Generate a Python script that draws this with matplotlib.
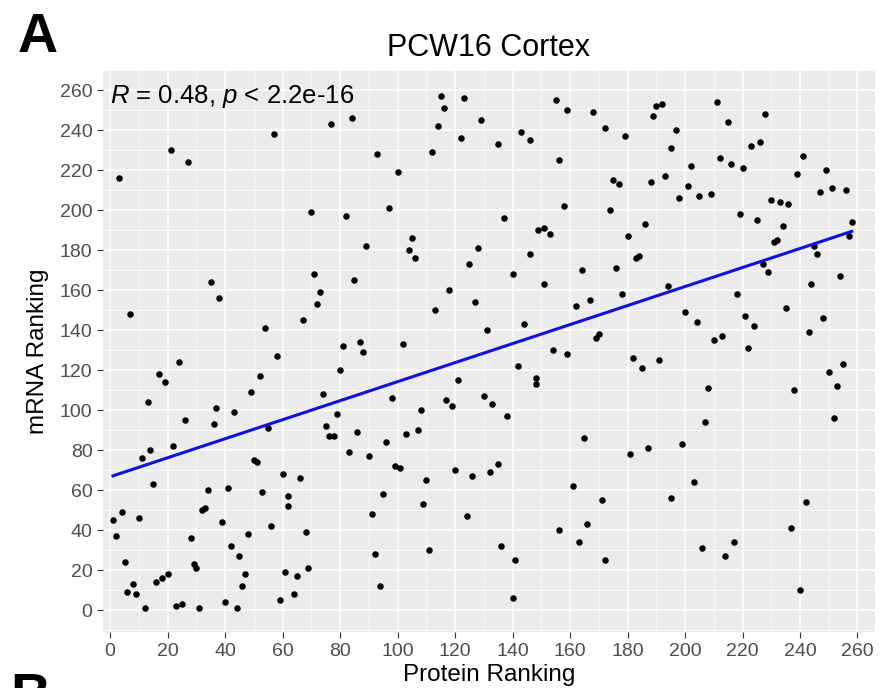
import numpy as np
import matplotlib
matplotlib.use("Agg")
import matplotlib.pyplot as plt
from matplotlib.ticker import MultipleLocator

plt.rcParams['font.family'] = ['Liberation Sans', 'DejaVu Sans']
plt.rcParams['mathtext.fontset'] = 'custom'
plt.rcParams['mathtext.rm'] = 'Liberation Sans'
plt.rcParams['mathtext.it'] = 'Liberation Sans:italic'

# values
protein_rank = [
    14, 11, 22, 15, 50, 51, 60, 34, 41, 53, 62, 62, 4, 1, 10, 32, 33, 39, 56, 2, 28, 48,
    42, 45, 5, 29, 30, 20, 16, 18, 47, 61, 8, 6, 9, 46, 12, 23, 25, 31, 40, 44, 59,
    35, 38, 7, 54, 58, 24, 17, 19, 52, 49, 13, 37, 43, 26, 36, 55,
    57, 21, 27, 3,
    115, 123, 116, 77, 84, 114, 129, 122, 93, 112, 100, 70, 82, 97, 105, 89, 104, 106, 128,
    155, 159, 168, 190, 192, 189, 172, 179, 143, 146, 135, 156, 195, 175, 177, 188, 193,
    158, 174, 137, 149, 151, 153, 186, 180, 146,
    211, 228, 215, 197, 223, 226, 241, 212, 216, 220, 202, 249, 239, 201, 198, 205, 209,
    247, 251, 256, 230, 233, 236, 219, 225, 234, 258, 231, 232, 257, 245, 246,
    125, 71, 85, 73, 72, 118, 127, 113, 67, 81, 87, 88, 102, 80, 121, 74, 98, 117, 119,
    108, 79, 75, 76, 78, 86, 103, 107,
    96, 83, 90, 99, 101, 120, 126, 66, 110, 95, 109, 91, 124, 68, 92, 111, 65, 69, 64, 94,
    183, 184, 140, 164, 176, 151, 178, 194, 162, 167, 144, 131, 169, 170, 154, 159, 182,
    191, 185, 142, 148, 148, 130, 133, 138, 165,
    227, 229, 244, 254, 218, 200, 204, 221, 224, 235, 248, 243, 210, 213, 222, 255, 250,
    253, 208, 238, 207, 252,
    199, 181, 187, 135, 132, 203, 161, 171, 195, 242, 166, 156, 163, 237, 136, 141, 172,
    206, 217, 214, 140, 240,
]
mrna_rank = [
    80, 76, 82, 63, 75, 74, 68, 60, 61, 59, 57, 52, 49, 45, 46, 50, 51, 44, 42, 37, 36, 38,
    32, 27, 24, 23, 21, 18, 14, 16, 18, 19, 13, 9, 8, 12, 1, 2, 3, 1, 4, 1, 5,
    164, 156, 148, 141, 127, 124, 118, 114, 117, 109, 104, 101, 99, 95, 93, 91,
    238, 230, 224, 216,
    257, 256, 251, 243, 246, 242, 245, 236, 228, 229, 219, 199, 197, 201, 186, 182, 180, 176, 181,
    255, 250, 249, 252, 253, 247, 241, 237, 239, 235, 233, 225, 231, 215, 213, 214, 217,
    202, 200, 196, 190, 191, 188, 193, 187, 178,
    254, 248, 244, 240, 232, 234, 227, 226, 223, 221, 222, 220, 218, 212, 206, 207, 208,
    209, 211, 210, 205, 204, 203, 198, 195, 192, 194, 184, 185, 187, 182, 178,
    173, 168, 165, 159, 153, 160, 154, 150, 145, 132, 134, 129, 133, 120, 115, 108, 106, 105, 102,
    100, 98, 92, 87, 87, 89, 88, 90,
    84, 79, 77, 72, 71, 70, 67, 66, 65, 58, 53, 48, 47, 39, 28, 30, 17, 21, 8, 12,
    176, 177, 168, 170, 171, 163, 158, 162, 152, 155, 143, 140, 136, 138, 130, 128, 126,
    125, 121, 122, 116, 113, 107, 103, 97, 86,
    173, 169, 163, 167, 158, 149, 144, 147, 142, 151, 146, 139, 135, 137, 131, 123, 119,
    112, 111, 110, 94, 96,
    83, 78, 81, 73, 69, 64, 62, 55, 56, 54, 43, 40, 34, 41, 32, 25, 25, 31, 34, 27, 6, 10,
]
stat_label = r'$\mathit{R}$ = 0.48, $\mathit{p}$ < 2.2e-16'
x_ticks = np.arange(0, 261, 20)
y_ticks = np.arange(0, 261, 20)

x = np.array(protein_rank, dtype=float)
y = np.array(mrna_rank, dtype=float)

fig = plt.figure(figsize=(8.8, 6.88), dpi=100)
ax = fig.add_axes([0.117, 0.081, 0.877, 0.817])
ax.set_facecolor('#EBEBEB')

ax.scatter(x, y, s=22, c='black', linewidths=0, zorder=3)

slope, icpt = np.polyfit(x, y, 1)
xs = np.array([x.min(), x.max()])
ax.plot(xs, icpt + slope * xs, color='#1010E0', lw=2.2, zorder=4)

ax.set_xlim(-2.5, 266)
ax.set_ylim(-11, 270)
ax.set_xticks(x_ticks)
ax.set_yticks(y_ticks)
ax.xaxis.set_minor_locator(MultipleLocator(10))
ax.yaxis.set_minor_locator(MultipleLocator(10))
ax.grid(True, which='major', color='white', lw=1.1, zorder=0)
ax.grid(True, which='minor', color='white', lw=0.5, zorder=0)
ax.set_axisbelow(True)
for s in ax.spines.values():
    s.set_visible(False)
ax.tick_params(which='major', length=4, color='#333333', labelsize=14, labelcolor='#4D4D4D')
ax.tick_params(which='minor', length=0)

ax.set_xlabel('Protein Ranking', fontsize=17.5, labelpad=3)
ax.set_ylabel('mRNA Ranking', fontsize=17.5, labelpad=8)
ax.set_title('PCW16 Cortex', fontsize=22, pad=10)

ax.text(0, 257, stat_label, fontsize=18.5, ha='left', va='center')

fig.text(0.02, 0.925, 'A', fontsize=40, fontweight='bold', ha='left', va='baseline')
fig.text(0.012, -0.035, 'B', fontsize=40, fontweight='bold', ha='left', va='baseline')

fig.savefig('out.png', dpi=100)
